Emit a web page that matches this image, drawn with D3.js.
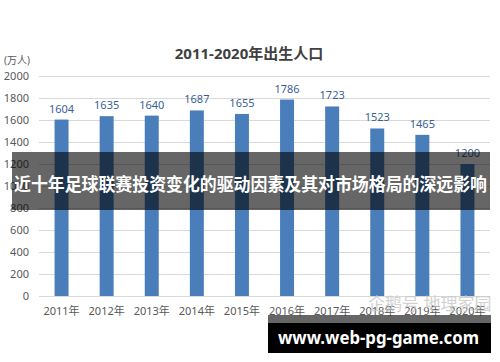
<!DOCTYPE html>
<meta charset="utf-8">
<script src="https://d3js.org/d3.v7.min.js"></script>
<style>
  body { margin: 0; background: #fff; }
  text { font-family: "Noto Sans", "Noto Sans CJK SC", sans-serif; }
  .grid line { stroke: #d9d9d9; }
</style>
<div id="chart"></div>
<script>
  // data
  var years = ["2011年", "2012年", "2013年", "2014年", "2015年", "2016年", "2017年", "2018年", "2019年", "2020年"];
  var births = [1604, 1635, 1640, 1687, 1655, 1786, 1723, 1523, 1465, 1200];
  var yTicks = [0, 200, 400, 600, 800, 1000, 1200, 1400, 1600, 1800, 2000];

  var W = 500, H = 362;
  var plotLeft = 39, plotRight = 490, plotTop = 76, plotBottom = 296;

  var svg = d3.select("#chart").append("svg")
      .attr("width", W).attr("height", H);

  var x = d3.scaleBand().domain(years).range([plotLeft, plotRight]).paddingInner(0.69).paddingOuter(0.345);
  var y = d3.scaleLinear().domain([0, 2000]).range([plotBottom, plotTop]);

  // gridlines
  svg.append("g")
     .attr("class", "grid")
     .attr("transform", "translate(" + plotLeft + ",0)")
     .call(d3.axisLeft(y).tickValues(yTicks).tickSize(-(plotRight - plotLeft)).tickFormat(""))
     .call(function (g) { g.select(".domain").remove(); });

  // y labels
  svg.append("g").selectAll("text")
     .data(yTicks).enter().append("text")
     .attr("x", 29).attr("y", function (d) { return y(d); })
     .attr("dy", "0.35em").attr("text-anchor", "end")
     .attr("font-size", 11).attr("fill", "#595959")
     .text(function (d) { return d; });

  svg.append("text").attr("x", 4).attr("y", 64)
     .attr("font-size", 10).attr("fill", "#595959")
     .attr("font-family", "Noto Sans CJK SC")
     .text("(万人)");

  // bars
  svg.selectAll("rect.bar")
     .data(births).enter().append("rect")
     .attr("class", "bar")
     .attr("x", function (d, i) { return x(years[i]); })
     .attr("width", x.bandwidth())
     .attr("y", function (d) { return y(d); })
     .attr("height", function (d) { return plotBottom - y(d); })
     .attr("fill", "#4a7ebb");

  // value labels
  svg.selectAll("text.val")
     .data(births).enter().append("text")
     .attr("class", "val")
     .attr("x", function (d, i) { return x(years[i]) + x.bandwidth() / 2; })
     .attr("y", function (d) { return y(d) - 7; })
     .attr("text-anchor", "middle")
     .attr("font-size", 11).attr("fill", "#3a5f96")
     .text(function (d) { return d; });

  // x labels
  svg.append("g").selectAll("text")
     .data(years).enter().append("text")
     .attr("x", function (d) { return x(d) + x.bandwidth() / 2; })
     .attr("y", 311).attr("dy", "0.35em")
     .attr("text-anchor", "middle")
     .attr("font-size", 11).attr("fill", "#595959")
     .text(function (d) { return d; });

  // title
  svg.append("text").attr("x", 249).attr("y", 59)
     .attr("text-anchor", "middle")
     .attr("font-size", 15).attr("font-weight", "bold").attr("fill", "#404040")
     .text("2011-2020年出生人口");

  // watermark
  svg.append("text").attr("x", 368).attr("y", 310)
     .attr("font-size", 17).attr("fill", "#c8c8c8").attr("opacity", 0.8)
     .attr("font-family", "Noto Sans CJK SC")
     .text("企鹅号 地理家园");

  // overlay band
  svg.append("rect").attr("x", 12).attr("y", 152).attr("width", 478).attr("height", 58)
     .attr("fill", "#000").attr("opacity", 0.6);
  svg.append("text").attr("x", 14).attr("y", 185).attr("dy", "0.35em")
     .attr("textLength", 473).attr("lengthAdjust", "spacingAndGlyphs")
     .attr("font-family", "Noto Sans CJK SC").attr("font-weight", "bold")
     .attr("font-size", 18).attr("fill", "#fff")
     .text("近十年足球联赛投资变化的驱动因素及其对市场格局的深远影响");

  // bottom box
  svg.append("rect").attr("x", 268).attr("y", 315).attr("width", 223).attr("height", 8)
     .attr("fill", "#000").attr("opacity", 0.6);
  svg.append("rect").attr("x", 268).attr("y", 323).attr("width", 223).attr("height", 30)
     .attr("fill", "#000");
  svg.append("text").attr("x", 278).attr("y", 338).attr("dy", "0.35em")
     .attr("textLength", 201).attr("lengthAdjust", "spacingAndGlyphs")
     .attr("font-family", "Noto Sans").attr("font-weight", "bold")
     .attr("font-size", 18).attr("fill", "#fff")
     .text("www.web-pg-game.com");
</script>
